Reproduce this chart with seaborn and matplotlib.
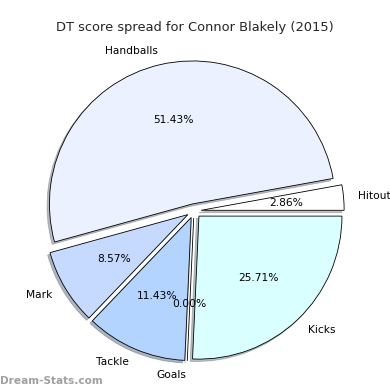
import matplotlib
matplotlib.use('Agg')
import matplotlib.pyplot as plt
import seaborn as sns

sns.set_style('white')

# DT points per stat, in drawing order (counter-clockwise from 0 deg)
stats = ['Hitout', 'Handballs', 'Mark', 'Tackle', 'Goals', 'Kicks']
points = [1, 18, 3, 4, 0, 9]
colors = ['#ffffff', '#ebf1ff', '#c6d9ff', '#b3d4ff', '#c6e6ff', '#d9ffff']
explode = [0.05] * len(stats)

fig = plt.figure(figsize=(3.9, 3.9), dpi=100)
ax = fig.add_axes([0.0391, 0.0008, 0.9167, 0.9167])

ax.pie(points, labels=stats, colors=colors, explode=explode,
       autopct='%1.2f%%', startangle=0,
       shadow={'ox': -0.012, 'oy': -0.012, 'shade': 0.5},
       wedgeprops=dict(edgecolor='black', linewidth=0.6),
       textprops=dict(fontsize=7.7, color='black'))
ax.set_xlim(-1.25, 1.25)
ax.set_ylim(-1.25, 1.25)
ax.set_aspect('equal')
ax.axis('off')

fig.text(0.5, 0.93, 'DT score spread for Connor Blakely (2015)',
         ha='center', va='center', fontsize=9.4)
fig.text(0.0, 0.01, 'Dream-Stats.com', ha='left', va='bottom',
         fontsize=7.6, fontweight='bold', color='#a0a0a0')

fig.savefig('out.png', dpi=100)
